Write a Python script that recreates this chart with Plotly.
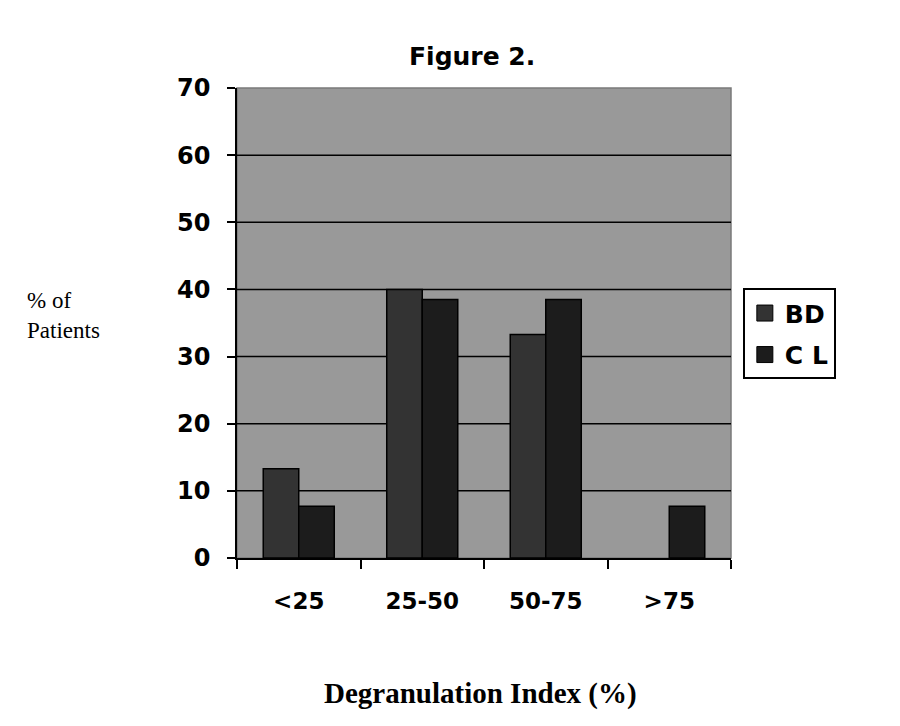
import plotly.graph_objects as go

categories = ["<25", "25-50", "50-75", ">75"]
bd_values = [13.3, 40.0, 33.3, 0]
cl_values = [7.7, 38.5, 38.5, 7.7]
y_ticks = [0, 10, 20, 30, 40, 50, 60, 70]

BD_COLOR = "#333333"
CL_COLOR = "#1c1c1c"
SANS = "DejaVu Sans"
SERIF = "Times New Roman, Liberation Serif"


def edge_widths(vals):
    return [1.5 if v > 0 else 0 for v in vals]


fig = go.Figure()
fig.add_trace(go.Bar(x=categories, y=bd_values, name="BD", showlegend=False,
                     marker=dict(color=BD_COLOR,
                                 line=dict(color="black", width=edge_widths(bd_values)))))
fig.add_trace(go.Bar(x=categories, y=cl_values, name="C L", showlegend=False,
                     marker=dict(color=CL_COLOR,
                                 line=dict(color="black", width=edge_widths(cl_values)))))
# legend entries
for nm, col in [("BD", BD_COLOR), ("C L", CL_COLOR)]:
    fig.add_trace(go.Scatter(x=[None], y=[None], mode="markers", name="<b>%s</b>" % nm,
                             legendgroup=nm,
                             marker=dict(symbol="square", size=17, color=col,
                                         line=dict(color="black", width=1))))

fig.update_layout(
    width=900, height=726,
    margin=dict(l=229, r=177, t=80, b=176),
    paper_bgcolor="white", plot_bgcolor="#999999",
    barmode="group", bargap=0.425, bargroupgap=0,
    showlegend=True,
    legend=dict(x=1.024, xanchor="left", y=0.477, yanchor="middle",
                bgcolor="white", bordercolor="black", borderwidth=2,
                font=dict(family=SANS, size=25, color="black"),
                itemsizing="trace", tracegroupgap=6, itemwidth=30),
    font=dict(family=SANS, color="black"),
)
fig.update_xaxes(
    type="category", tickson="boundaries", ticks="outside", ticklen=9, tickwidth=1.5,
    tickcolor="black", showline=True, linecolor="black", linewidth=1.5,
    tickfont=dict(family=SANS, size=23, color="black"),
    ticklabelstandoff=22, showgrid=False, automargin=False,
    tickvals=categories, ticktext=["<b>%s</b>" % c for c in categories],
)
fig.update_yaxes(
    range=[0, 70], tickvals=y_ticks, ticktext=["<b>%d</b>" % v for v in y_ticks],
    ticks="outside", ticklen=8, tickwidth=1.5, tickcolor="black",
    showline=True, linecolor="black", linewidth=1.5,
    showgrid=False, zeroline=False, automargin=False,
    tickfont=dict(family=SANS, size=24, color="black"),
    ticklabelstandoff=12,
)
# plot-area border (grey) on top/right
fig.add_shape(type="rect", xref="paper", yref="paper", x0=0, x1=1, y0=0, y1=1,
              line=dict(color="#7a7a7a", width=1.5), layer="below")
# horizontal gridlines through the y-axis scale
for v in y_ticks[1:-1]:
    fig.add_shape(type="line", xref="paper", yref="y", x0=0, x1=1, y0=v, y1=v,
                  line=dict(color="black", width=1.5), layer="below")

fig.add_annotation(text="<b>Figure 2.</b>", xref="paper", yref="paper", x=0.476, y=1.066,
                   xanchor="center", yanchor="middle", showarrow=False,
                   font=dict(family=SANS, size=25, color="black"))
fig.add_annotation(text="% of<br>Patients", xref="paper", yref="paper", x=-0.429, y=0.515,
                   xanchor="left", yanchor="middle", showarrow=False, align="left",
                   font=dict(family=SERIF, size=23, color="black"))
fig.add_annotation(text="<b>Degranulation Index (%)</b>", xref="paper", yref="paper",
                   x=0.492, y=-0.289, xanchor="center", yanchor="middle", showarrow=False,
                   font=dict(family=SERIF, size=29, color="black"))

fig.write_html("out.html")
